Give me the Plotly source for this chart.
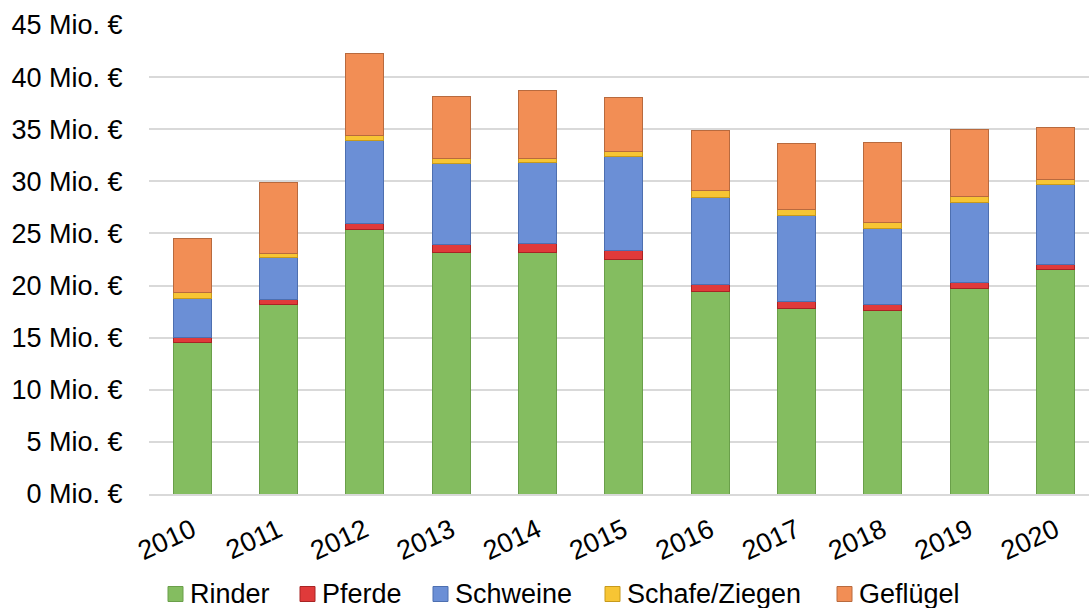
import plotly.graph_objects as go

years = ["2010", "2011", "2012", "2013", "2014", "2015", "2016", "2017", "2018", "2019", "2020"]

# Mio. € per animal group
rinder = [14.5, 18.2, 25.4, 23.2, 23.2, 22.5, 19.4, 17.8, 17.6, 19.75, 21.5]
pferde = [0.5, 0.5, 0.6, 0.75, 0.85, 0.9, 0.7, 0.65, 0.55, 0.55, 0.55]
schweine = [3.8, 4.0, 7.9, 7.75, 7.75, 9.0, 8.35, 8.25, 7.35, 7.7, 7.6]
schafe_ziegen = [0.5, 0.4, 0.5, 0.45, 0.4, 0.45, 0.65, 0.6, 0.55, 0.55, 0.5]
gefluegel = [5.2, 6.75, 7.9, 5.95, 6.5, 5.15, 5.75, 6.35, 7.65, 6.4, 5.0]

series_names = ["Rinder", "Pferde", "Schweine", "Schafe/Ziegen", "Geflügel"]
series_values = [rinder, pferde, schweine, schafe_ziegen, gefluegel]
fill_colors = ["#84bd60", "#e03a3a", "#6b8fd6", "#f7c534", "#f28e55"]
edge_colors = ["#6a9f4a", "#a82424", "#4d6fb0", "#c79a1c", "#b86a3e"]

# plot area geometry (pixels)
W, H = 1089, 608
L, R, T, B = 149, 0, 25, 114
PW, PH = W - L - R, H - T - B

fig = go.Figure()
for name, vals, fill, edge in zip(series_names, series_values, fill_colors, edge_colors):
    fig.add_trace(go.Bar(
        x=years, y=vals, name=name, showlegend=False,
        marker=dict(color=fill, line=dict(color=edge, width=1)),
        width=0.44,
    ))

# legend row below the chart: colour square + label
legend_square_left = [168, 300, 433, 605, 837]
legend_center_y = 594
sq = 15
font = "Liberation Sans, Arial, sans-serif"
shapes, annotations = [], []
for name, fill, edge, px in zip(series_names, fill_colors, edge_colors, legend_square_left):
    x0 = (px - L) / PW
    x1 = (px + sq - L) / PW
    y0 = -(legend_center_y + sq / 2 - (T + PH)) / PH
    y1 = -(legend_center_y - sq / 2 - (T + PH)) / PH
    shapes.append(dict(type="rect", xref="paper", yref="paper",
                       x0=x0, x1=x1, y0=y0, y1=y1,
                       fillcolor=fill, line=dict(color=edge, width=1)))
    annotations.append(dict(
        text=name, xref="paper", yref="paper",
        x=(px + sq + 5 - L) / PW, y=-(legend_center_y - (T + PH)) / PH,
        xanchor="left", yanchor="middle", showarrow=False,
        font=dict(family=font, size=27, color="#000000"),
    ))

fig.update_layout(
    barmode="stack",
    width=W, height=H,
    margin=dict(l=L, r=R, t=T, b=B, autoexpand=False),
    paper_bgcolor="white", plot_bgcolor="white",
    font=dict(family=font, size=27, color="#000000"),
    showlegend=False,
    shapes=shapes,
    annotations=annotations,
    xaxis=dict(
        type="category",
        range=[-0.5, 10.39],
        tickangle=-25,
        showgrid=False,
        showline=True, linecolor="#d9d9d9", linewidth=2,
        ticks="outside", ticklen=8, tickcolor="rgba(0,0,0,0)",
        tickfont=dict(size=27),
        automargin=False,
    ),
    yaxis=dict(
        range=[0, 45], dtick=5, tick0=0,
        ticksuffix=" Mio. €",
        showgrid=True, gridcolor="#d9d9d9", gridwidth=1.5,
        zeroline=False, showline=False,
        ticks="outside", ticklen=20, tickcolor="rgba(0,0,0,0)",
        tickfont=dict(size=27),
        automargin=False,
    ),
    bargap=0.56,
)

fig.write_html("out.html")
